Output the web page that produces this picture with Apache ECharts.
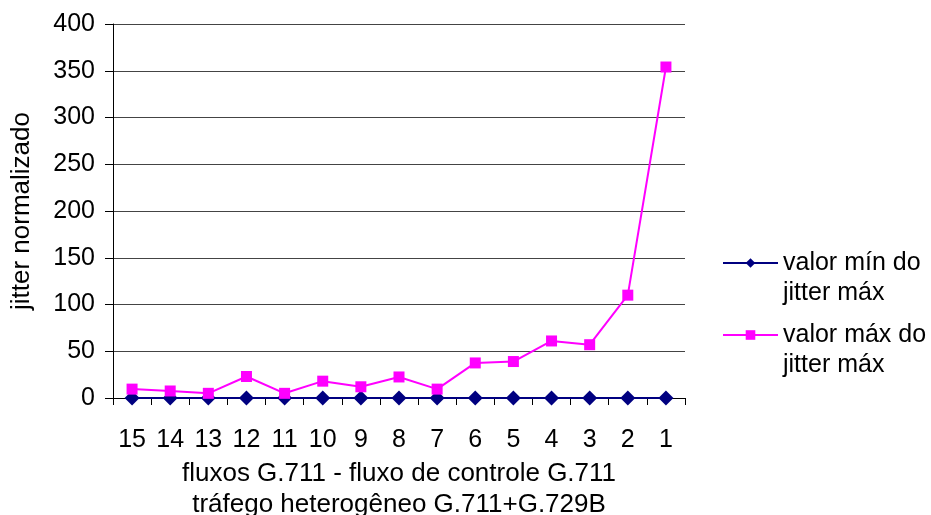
<!DOCTYPE html>
<html><head><meta charset="utf-8">
<script src="https://cdn.jsdelivr.net/npm/echarts@6/dist/echarts.min.js"></script>
<style>html,body{margin:0;padding:0;background:#fff}#c{width:931px;height:515px}</style>
</head><body><div id="c"></div>
<script>
const categories = ['15','14','13','12','11','10','9','8','7','6','5','4','3','2','1'];
const minJitter = [0,0,0,0,0,0,0,0,0,0,0,0,0,0,0];
const maxJitter = [9.5,7.5,5,23,5,18,12,22.5,9.5,37.5,39,61,57,110,354];
const yTicks = [0,50,100,150,200,250,300,350,400];
const seriesNames = ['valor mín do\njitter máx','valor máx do\njitter máx'];

const font = 'Liberation Sans, Arial, sans-serif';
const fs = 25;
const chart = echarts.init(document.getElementById('c'));
chart.setOption({
  animation:false,
  backgroundColor:'#fff',
  grid:{left:113, top:24, width:572, height:374, containLabel:false, outerBoundsMode:'none'},
  legend:{
    orient:'vertical', left:722, top:218, padding:0,
    itemWidth:55, itemHeight:12, itemGap:-18,
    formatter: function(name){ return ' \n' + name; },
    textStyle:{fontFamily:font, fontSize:fs, color:'#000', lineHeight:30},
    data:seriesNames
  },
  xAxis:{
    type:'category', data:categories, boundaryGap:true,
    axisLine:{lineStyle:{color:'#000',width:1}},
    axisTick:{show:true, length:7, lineStyle:{color:'#000'}},
    axisLabel:{fontFamily:font, fontSize:fs, color:'#000', margin:30},
    name:'fluxos G.711 - fluxo de controle G.711\ntráfego heterogêneo G.711+G.729B',
    nameLocation:'middle', nameGap:56,
    nameTextStyle:{fontFamily:font, fontSize:26, color:'#000', lineHeight:31}
  },
  yAxis:{
    type:'value', min:yTicks[0], max:yTicks[yTicks.length-1], interval:50,
    axisLine:{show:true, lineStyle:{color:'#000',width:1}},
    axisTick:{show:true, length:8, lineStyle:{color:'#000'}},
    axisLabel:{fontFamily:font, fontSize:fs, color:'#000', margin:18},
    splitLine:{lineStyle:{color:'#444',width:1}},
    name:'jitter normalizado', nameLocation:'middle', nameGap:78,
    nameTextStyle:{fontFamily:font, fontSize:26, color:'#000'}
  },
  series:[
    {name:seriesNames[0], type:'line', data:minJitter, symbol:'diamond', symbolSize:15,
     itemStyle:{color:'#000080'}, lineStyle:{color:'#000080',width:2}},
    {name:seriesNames[1], type:'line', data:maxJitter, symbol:'rect', symbolSize:11,
     itemStyle:{color:'#ff00ff'}, lineStyle:{color:'#ff00ff',width:2}}
  ]
});
</script></body></html>
